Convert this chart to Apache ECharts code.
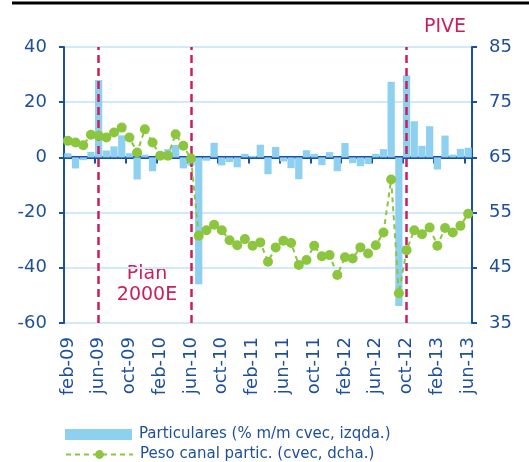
<!DOCTYPE html>
<html>
<head>
<meta charset="utf-8">
<script src="https://cdn.jsdelivr.net/npm/echarts@6/dist/echarts.min.js"></script>
<style>
html,body{margin:0;padding:0;background:#fff;}
#chart{width:529px;height:462px;}
</style>
</head>
<body>
<div id="chart"></div>
<script>
const categories = [
  'feb-09','mar-09','abr-09','may-09','jun-09','jul-09','ago-09','sep-09','oct-09','nov-09','dic-09',
  'ene-10','feb-10','mar-10','abr-10','may-10','jun-10','jul-10','ago-10','sep-10','oct-10','nov-10','dic-10',
  'ene-11','feb-11','mar-11','abr-11','may-11','jun-11','jul-11','ago-11','sep-11','oct-11','nov-11','dic-11',
  'ene-12','feb-12','mar-12','abr-12','may-12','jun-12','jul-12','ago-12','sep-12','oct-12','nov-12','dic-12',
  'ene-13','feb-13','mar-13','abr-13','may-13','jun-13'
];
// Particulares (% m/m cvec, izqda.)
const particulares = [
  1.5, -4, -1, 2, 28, 2.5, 4, 8, 1.5, -8, 1,
  -5, 2, 3, 4.5, -4, -3, -46, -1.2, 5.3, -2.9, -1.7, -3.6,
  1.3, 0.5, 4.6, -6.1, 3.8, -1.5, -3.9, -7.9, 2.6, 1.3, -2.8, 1.9,
  -5, 5.2, -2.1, -3.2, -2.4, 1.3, 3, 27.4, -53.8, 29.7, 13.1, 4.2,
  11.3, -4.4, 7.9, 1, 3.1, 3.5
];
// Peso canal partic. (cvec, dcha.)
const peso = [
  68.0, 67.7, 67.2, 69.1, 68.9, 68.6, 69.5, 70.4, 68.6, 65.9, 70.1,
  67.7, 65.3, 65.3, 69.2, 67.1, 64.8, 50.8, 51.8, 52.8, 51.8, 50.0, 49.1,
  50.2, 49.0, 49.6, 46.1, 48.7, 49.9, 49.5, 45.5, 46.4, 49.0, 47.1, 47.3,
  43.7, 46.9, 46.7, 48.7, 47.6, 49.1, 51.4, 61.0, 40.4, 48.2, 51.8, 51.1,
  52.3, 49.0, 52.2, 51.4, 52.6, 54.8
];
const leftTicks = { min: -60, max: 40, interval: 20 };
const rightTicks = { min: 35, max: 85, interval: 10 };
const events = ['jun-09', 'jun-10', 'oct-12'];
const seriesNames = ['Particulares (% m/m cvec, izqda.)', 'Peso canal partic. (cvec, dcha.)'];

const FONT = '"DejaVu Sans", sans-serif';
const AXIS_BLUE = '#1b4f9f';
const TEXT_BLUE = '#1d4f9c';
const GRID_BLUE = '#d0ebf7';
const BAR_BLUE = '#8dd0f0';
const GREEN = '#8cc63f';
const RED = '#cc1d5e';

const legendBase = {
  orient: 'horizontal', left: 60, itemWidth: 67, itemHeight: 11, itemGap: 10,
  textStyle: { color: TEXT_BLUE, fontFamily: FONT, fontSize: 15, padding: [0, 0, 0, 2] }
};

const chart = echarts.init(document.getElementById('chart'), null, { renderer: 'canvas' });
chart.setOption({
  animation: false,
  backgroundColor: '#ffffff',
  grid: { left: 64, right: 57, top: 47, bottom: 139, containLabel: false },
  legend: [
    Object.assign({}, legendBase, { top: 422, data: [{ name: seriesNames[0], icon: 'rect' }] }),
    Object.assign({}, legendBase, { top: 442, data: [seriesNames[1]] })
  ],
  xAxis: [
    {
      type: 'category', data: categories, position: 'bottom',
      axisLine: { show: false, onZero: false },
      axisTick: { show: false },
      axisLabel: { interval: 3, rotate: 90, margin: 14, color: TEXT_BLUE, fontFamily: FONT, fontSize: 18 },
      splitLine: { show: false }
    },
    {
      type: 'category', data: categories, position: 'bottom',
      axisLine: { show: true, onZero: true, onZeroAxisIndex: 0, lineStyle: { color: AXIS_BLUE, width: 3 } },
      axisTick: { show: true, interval: 3, length: 6, lineStyle: { color: AXIS_BLUE, width: 2 } },
      axisLabel: { show: false },
      splitLine: { show: false }
    }
  ],
  yAxis: [
    {
      type: 'value', min: leftTicks.min, max: leftTicks.max, interval: leftTicks.interval,
      position: 'left',
      axisLine: { show: true, onZero: false, lineStyle: { color: AXIS_BLUE, width: 2 } },
      axisTick: { show: true, length: 5, lineStyle: { color: AXIS_BLUE, width: 2 } },
      axisLabel: { margin: 17, color: TEXT_BLUE, fontFamily: FONT, fontSize: 18 },
      splitLine: { show: true, lineStyle: { color: GRID_BLUE, width: 2 } }
    },
    {
      type: 'value', min: rightTicks.min, max: rightTicks.max, interval: rightTicks.interval,
      position: 'right',
      axisLine: { show: true, onZero: false, lineStyle: { color: AXIS_BLUE, width: 2 } },
      axisTick: { show: true, length: 5, lineStyle: { color: AXIS_BLUE, width: 2 } },
      axisLabel: { margin: 17, color: TEXT_BLUE, fontFamily: FONT, fontSize: 18 },
      splitLine: { show: false }
    }
  ],
  series: [
    {
      name: seriesNames[0], type: 'bar', xAxisIndex: 0, yAxisIndex: 0,
      data: particulares, barCategoryGap: '6%',
      itemStyle: { color: BAR_BLUE },
      markLine: {
        silent: true, symbol: 'none', label: { show: false }, z: 3,
        lineStyle: { color: RED, width: 2.5, type: [8, 5] },
        data: events.map(e => ({ xAxis: e }))
      },
      z: 2
    },
    {
      name: seriesNames[1], type: 'line', xAxisIndex: 0, yAxisIndex: 1,
      data: peso, symbol: 'circle', symbolSize: 10, showSymbol: true, showAllSymbol: true,
      lineStyle: { color: GREEN, width: 2, type: [5, 4] },
      itemStyle: { color: GREEN },
      z: 5
    }
  ],
  graphic: [
    { type: 'line', shape: { x1: 12, y1: 3, x2: 529, y2: 3 }, style: { stroke: '#000', lineWidth: 3 } },
    { type: 'text', x: 445, y: 18, style: { text: 'PIVE', fill: RED, font: '19px "DejaVu Sans", sans-serif', align: 'center' } },
    { type: 'text', x: 147, y: 264, style: { text: 'Plan\n2000E', fill: RED, font: '19px "DejaVu Sans", sans-serif', align: 'center', lineHeight: 21 } }
  ]
});
</script>
</body>
</html>
